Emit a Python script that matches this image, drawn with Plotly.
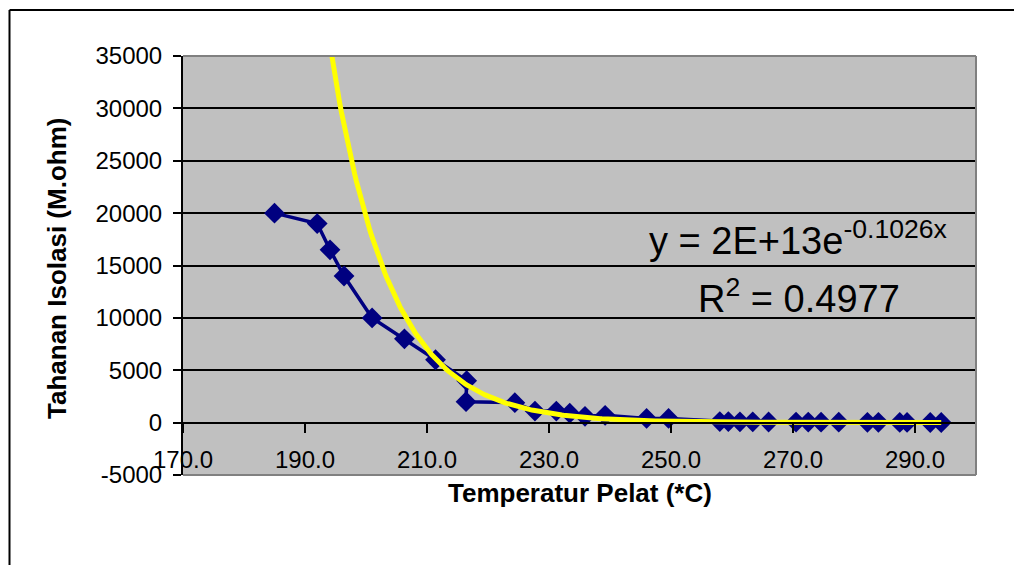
import plotly.graph_objects as go
import numpy as np

# ---- data ----
temperature = [185.0, 192.0, 194.1, 196.4, 201.0, 206.3, 211.4, 216.5, 216.4,
               224.4, 227.7, 231.2, 233.4, 235.9, 239.2, 246.0, 249.6,
               258.0, 259.4, 261.3, 263.4, 266.0, 270.5, 272.5, 274.6, 277.5,
               282.2, 284.0, 287.5, 288.7, 292.5, 294.3]
resistance = [20000, 19000, 16500, 14000, 10000, 8000, 6000, 4000, 2000,
              1900, 1100, 1100, 900, 600, 700, 400, 400,
              100, 100, 80, 80, 60, 50, 50, 40, 40,
              30, 30, 20, 20, 10, 10]

# exponential trendline shown on chart: y = 2E+13 e^(-0.1026x)
trend_a = 1.6e13
trend_b = -0.1026
equation_text = "y = 2E+13e<sup>-0.1026x</sup>"
r2_text = "R<sup>2</sup> = 0.4977"

x_ticks = [170, 190, 210, 230, 250, 270, 290]
x_tick_labels = [f"{v:.1f}" for v in x_ticks]
y_ticks = [-5000, 0, 5000, 10000, 15000, 20000, 25000, 30000, 35000]
y_tick_labels = [str(v) for v in y_ticks]

x_title = "Temperatur Pelat (*C)"
y_title = "Tahanan Isolasi (M.ohm)"

# ---- figure (page body has an 8px margin) ----
OFF = 8
W, H = 1022 - OFF, 565 - OFF
L, T = 183 - OFF, 56 - OFF
R = W - (976 - OFF)
B = H - (475 - OFF)
pw, ph = W - L - R, H - T - B

def px_x(p):
    return (p - OFF - L) / pw

def px_y(p):
    return (H - B - (p - OFF)) / ph

FONT = "Arial, 'Liberation Sans', sans-serif"

trend_x = np.linspace(min(temperature), max(temperature), 400)
trend_y = trend_a * np.exp(trend_b * trend_x)

fig = go.Figure()
fig.add_trace(go.Scatter(
    x=temperature, y=resistance, mode="lines+markers",
    line=dict(color="#000080", width=3.5),
    marker=dict(symbol="diamond", size=16, color="#000080"),
    showlegend=False,
))
fig.add_trace(go.Scatter(
    x=trend_x, y=trend_y, mode="lines",
    line=dict(color="#FFFF00", width=5),
    showlegend=False,
))

y0_frac = (0 - y_ticks[0]) / (y_ticks[-1] - y_ticks[0])

fig.update_layout(
    width=W, height=H,
    margin=dict(l=L, r=R, t=T, b=B),
    paper_bgcolor="white",
    plot_bgcolor="#C0C0C0",
    font=dict(family=FONT, color="black"),
    xaxis=dict(
        range=[170, 300], tickvals=x_ticks, ticktext=x_tick_labels,
        anchor="free", position=y0_frac,
        showline=True, linecolor="black", linewidth=2,
        ticks="outside", ticklen=9, tickwidth=2, tickcolor="black",
        showgrid=False, zeroline=False,
        tickfont=dict(size=24, family=FONT, color="black"),
        ticklabelstandoff=7,
    ),
    yaxis=dict(
        range=[y_ticks[0], y_ticks[-1]], tickvals=y_ticks, ticktext=y_tick_labels,
        domain=[0, 1],
        showline=True, linecolor="black", linewidth=2,
        ticks="outside", ticklen=8, tickwidth=2, tickcolor="black",
        showgrid=True, gridcolor="black", gridwidth=1.5,
        zeroline=False,
        tickfont=dict(size=24, family=FONT, color="black"),
        ticklabelstandoff=6,
    ),
    shapes=[
        dict(type="line", xref="paper", yref="paper", x0=0, x1=1, y0=1, y1=1,
             line=dict(color="#808080", width=2), layer="above"),
        dict(type="line", xref="paper", yref="paper", x0=1, x1=1, y0=0, y1=1,
             line=dict(color="#808080", width=2), layer="above"),
        dict(type="line", xref="paper", yref="paper", x0=0, x1=1, y0=0, y1=0,
             line=dict(color="#808080", width=2), layer="above"),
        # outer chart border (top and left visible)
        dict(type="line", xref="paper", yref="paper",
             x0=px_x(9.5), x1=px_x(1040), y0=px_y(10), y1=px_y(10),
             line=dict(color="black", width=2), layer="below"),
        dict(type="line", xref="paper", yref="paper",
             x0=px_x(9.5), x1=px_x(9.5), y0=px_y(10), y1=px_y(600),
             line=dict(color="black", width=2), layer="below"),
    ],
    annotations=[
        dict(text=f"<b>{y_title}</b>", xref="paper", yref="paper",
             x=px_x(57), y=px_y(268), textangle=-90, showarrow=False,
             font=dict(size=26, family=FONT, color="black"),
             xanchor="center", yanchor="middle"),
        dict(text=f"<b>{x_title}</b>", xref="paper", yref="paper",
             x=0.5, y=px_y(493), showarrow=False,
             font=dict(size=26, family=FONT, color="black"),
             xanchor="center", yanchor="middle"),
        dict(text=equation_text, xref="paper", yref="paper",
             x=px_x(798), y=px_y(238), showarrow=False,
             font=dict(size=38, family=FONT, color="black"),
             xanchor="center", yanchor="middle"),
        dict(text=r2_text, xref="paper", yref="paper",
             x=px_x(799), y=px_y(296), showarrow=False,
             font=dict(size=38, family=FONT, color="black"),
             xanchor="center", yanchor="middle"),
    ],
)

fig.write_html("out.html")
